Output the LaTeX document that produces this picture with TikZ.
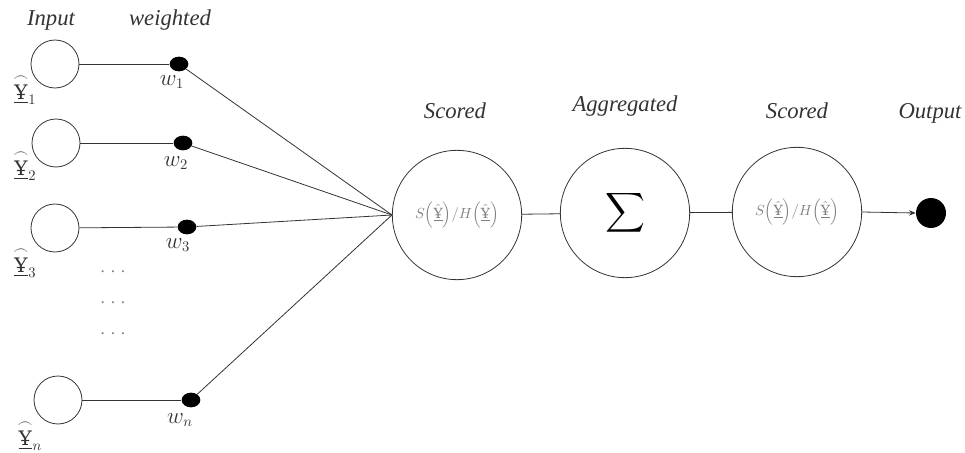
\documentclass[tikz,border=0pt]{standalone}
\usepackage{amsmath}
\usepackage{fontspec}
\setmainfont{Liberation Serif}
\newfontfamily\yfont{DejaVu Serif}
\usetikzlibrary{shapes.geometric,arrows.meta}

% neutrosophic symbol with a bar below
\newcommand{\ysym}{\underline{\text{\yfont Ұ}}}
% input label: arc above the symbol, index below right
\newcommand{\inlabel}[1]{$\overset{\frown}{\ysym}_{#1}$}
% score ratio shown inside the scoring nodes
\newcommand{\ratio}{$S\Bigl(\hat{\ysym}\Bigr)/H\Bigl(\hat{\ysym}\Bigr)$}

\tikzset{
  inputnode/.style={circle,draw=black!80,line width=0.6pt,minimum size=36pt,inner sep=0pt},
  weightdot/.style={ellipse,fill=black,minimum width=14pt,minimum height=11pt,inner sep=0pt},
  bignode/.style={ellipse,draw=black!80,line width=0.6pt,minimum width=97pt,minimum height=97pt,inner sep=0pt},
  outdot/.style={circle,fill=black,minimum size=22.5pt,inner sep=0pt},
  head/.style={font=\fontsize{17}{20}\selectfont\itshape,text=black!80,anchor=base},
  wlabel/.style={font=\fontsize{16}{19}\selectfont,text=black!80},
  ylabel/.style={font=\fontsize{15}{18}\selectfont,text=black!80},
  dotsrow/.style={font=\fontsize{13}{16}\selectfont,text=black!50},
  ratiotext/.style={font=\fontsize{10.5}{12}\selectfont,text=black!50,inner sep=0pt},
  conn/.style={draw=black!80,line width=0.6pt},
}

\begin{document}
\begin{tikzpicture}[x=0.75pt,y=-0.75pt]
\useasboundingbox (0,0) rectangle (965,453);

% column headings
\node[head] (hin)  at (51,26)  {Input};
\node[head] (hw)   at (170,26) {weighted};
\node[head] (hs1)  at (455,119) {Scored};
\node[head] (hagg) at (625,112) {Aggregated};
\node[head] (hs2)  at (797,119) {Scored};
\node[head] (hout) at (930,118) {Output};

% input neurons
\node[inputnode] (i1) at (55,64)  {};
\node[inputnode] (i2) at (56,143) {};
\node[inputnode] (i3) at (55,228) {};
\node[inputnode] (in) at (58,400) {};

\node[ylabel] (y1) at (25,89)  {\inlabel{1}};
\node[ylabel] (y2) at (25,165) {\inlabel{2}};
\node[ylabel] (y3) at (25,262) {\inlabel{3}};
\node[ylabel] (yn) at (30,435) {\inlabel{n}};

% weights
\node[weightdot] (w1) at (179,64)  {};
\node[weightdot] (w2) at (183,143) {};
\node[weightdot] (w3) at (187,227) {};
\node[weightdot] (wn) at (191,400) {};

\node[wlabel] (lw1) at (172,82)  {$w_1$};
\node[wlabel] (lw2) at (176,163) {$w_2$};
\node[wlabel] (lw3) at (178,245) {$w_3$};
\node[wlabel] (lwn) at (180,420) {$w_n$};

% elided inputs
\node[dotsrow] (d1) at (113,272) {.\,\,.\,\,.};
\node[dotsrow] (d2) at (113,303) {.\,\,.\,\,.};
\node[dotsrow] (d3) at (113,334) {.\,\,.\,\,.};

% processing stages
\node[bignode] (s1)  at (457,215) {};
\node[ratiotext] (r1) at (s1) {\ratio};
\node[bignode] (agg) at (625,213) {};
\node (sig) at (agg) {\fontsize{22}{26}\selectfont$\displaystyle\sum$};
\node[bignode] (s2)  at (797,212) {};
\node[ratiotext] (r2) at (s2) {\ratio};
\node[outdot] (out) at (931,213) {};

% connections
\foreach \k in {1,2,3,n} {
  \draw[conn] (i\k) -- (w\k);
  \draw[conn] (w\k) -- (s1.west);
}
\draw[conn] (s1) -- (agg);
\draw[conn] (agg) -- (s2);
\draw[conn,-{Stealth[length=5pt,width=4pt]}] (s2.east) -- (out.west);
\end{tikzpicture}
\end{document}
